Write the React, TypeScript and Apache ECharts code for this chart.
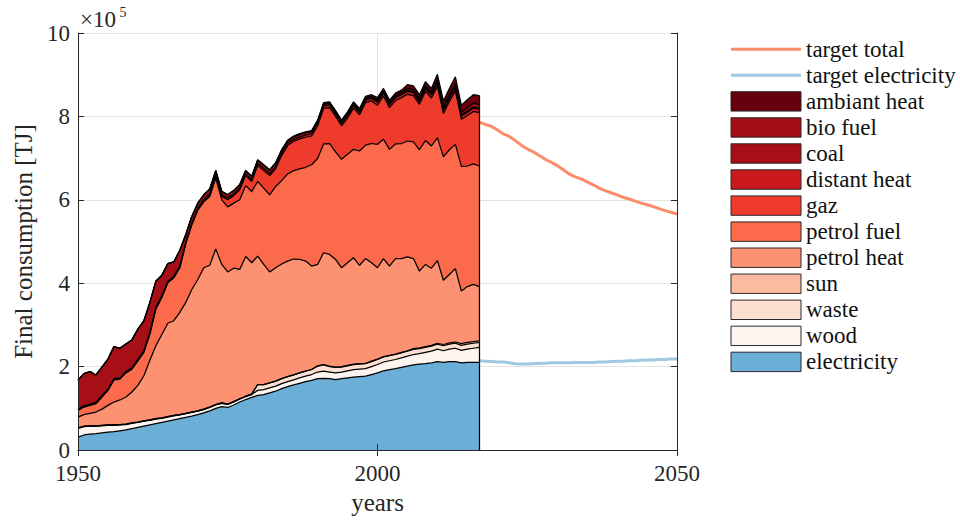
import { useEffect, useRef } from "react";
import * as echarts from "echarts";

// Years of the historical stacked data
const years = [
  1950, 1951, 1952, 1953, 1954, 1955, 1956, 1957, 1958, 1959,
  1960, 1961, 1962, 1963, 1964, 1965, 1966, 1967, 1968, 1969,
  1970, 1971, 1972, 1973, 1974, 1975, 1976, 1977, 1978, 1979,
  1980, 1981, 1982, 1983, 1984, 1985, 1986, 1987, 1988, 1989,
  1990, 1991, 1992, 1993, 1994, 1995, 1996, 1997, 1998, 1999,
  2000, 2001, 2002, 2003, 2004, 2005, 2006, 2007, 2008, 2009,
  2010, 2011, 2012, 2013, 2014, 2015, 2016, 2017,
];

// Values in units of 1e5 TJ
const electricity = [
  0.31, 0.36, 0.38, 0.39, 0.41, 0.43, 0.44, 0.46, 0.48, 0.51,
  0.54, 0.57, 0.60, 0.63, 0.66, 0.69, 0.72, 0.75, 0.78, 0.81,
  0.85, 0.89, 0.94, 1.00, 1.04, 1.02, 1.08, 1.15, 1.21, 1.26,
  1.31, 1.33, 1.37, 1.41, 1.47, 1.52, 1.56, 1.60, 1.64, 1.67,
  1.71, 1.72, 1.71, 1.69, 1.71, 1.73, 1.75, 1.76, 1.77, 1.81,
  1.85, 1.90, 1.93, 1.95, 1.98, 2.01, 2.04, 2.06, 2.07, 2.09,
  2.12, 2.10, 2.12, 2.12, 2.09, 2.10, 2.10, 2.10,
];
const wood = [
  0.21, 0.20, 0.19, 0.18, 0.17, 0.16, 0.15, 0.14, 0.13, 0.13,
  0.12, 0.12, 0.11, 0.11, 0.10, 0.10, 0.10, 0.09, 0.09, 0.09,
  0.08, 0.08, 0.08, 0.08, 0.08, 0.07, 0.07, 0.07, 0.07, 0.07,
  0.12, 0.12, 0.12, 0.12, 0.12, 0.12, 0.12, 0.13, 0.13, 0.14,
  0.16, 0.17, 0.16, 0.16, 0.16, 0.17, 0.18, 0.18, 0.18, 0.19,
  0.20, 0.21, 0.21, 0.22, 0.23, 0.24, 0.25, 0.25, 0.27, 0.28,
  0.30, 0.28, 0.30, 0.32, 0.30, 0.32, 0.34, 0.36,
];
const waste = [
  0.01, 0.01, 0.01, 0.01, 0.01, 0.01, 0.01, 0.01, 0.01, 0.01,
  0.01, 0.01, 0.01, 0.01, 0.01, 0.01, 0.01, 0.01, 0.01, 0.01,
  0.01, 0.01, 0.01, 0.01, 0.01, 0.01, 0.01, 0.01, 0.01, 0.01,
  0.14, 0.12, 0.12, 0.12, 0.12, 0.12, 0.12, 0.12, 0.12, 0.12,
  0.14, 0.15, 0.13, 0.13, 0.12, 0.12, 0.12, 0.12, 0.12, 0.12,
  0.12, 0.12, 0.12, 0.12, 0.12, 0.12, 0.12, 0.12, 0.12, 0.12,
  0.12, 0.12, 0.12, 0.12, 0.12, 0.12, 0.12, 0.12,
];
const sun = [
  0, 0, 0, 0, 0, 0, 0, 0, 0, 0,
  0, 0, 0, 0, 0, 0, 0, 0, 0, 0,
  0, 0, 0, 0, 0, 0, 0, 0, 0, 0,
  0, 0, 0, 0, 0, 0, 0, 0, 0, 0,
  0.01, 0.01, 0.01, 0.01, 0.01, 0.01, 0.01, 0.01, 0.01, 0.01,
  0.01, 0.01, 0.01, 0.01, 0.01, 0.01, 0.02, 0.02, 0.02, 0.02,
  0.02, 0.03, 0.03, 0.03, 0.04, 0.04, 0.04, 0.04,
];
const petrolHeat = [
  0.26, 0.28, 0.30, 0.33, 0.39, 0.47, 0.55, 0.59, 0.65, 0.74,
  0.88, 1.08, 1.43, 1.75, 2.00, 2.24, 2.27, 2.45, 2.66, 2.94,
  3.15, 3.39, 3.40, 3.73, 3.32, 3.17, 3.20, 3.10, 3.35, 3.15,
  3.08, 2.88, 2.66, 2.72, 2.75, 2.77, 2.78, 2.72, 2.64, 2.48,
  2.43, 2.68, 2.68, 2.58, 2.37, 2.46, 2.55, 2.36, 2.51, 2.36,
  2.19, 2.35, 2.14, 2.29, 2.25, 2.25, 2.16, 1.84, 1.97, 1.85,
  1.98, 1.54, 1.64, 1.76, 1.26, 1.34, 1.37, 1.30,
];
const petrolFuel = [
  0.16, 0.18, 0.19, 0.20, 0.29, 0.36, 0.53, 0.50, 0.58, 0.55,
  0.59, 0.56, 0.63, 0.88, 0.89, 0.97, 1.03, 1.07, 1.41, 1.55,
  1.66, 1.58, 1.65, 1.70, 1.55, 1.56, 1.56, 1.67, 1.70, 1.71,
  1.79, 1.83, 1.85, 1.95, 2.00, 2.09, 2.12, 2.17, 2.25, 2.43,
  2.54, 2.61, 2.66, 2.58, 2.60, 2.60, 2.60, 2.74, 2.72, 2.86,
  2.96, 2.86, 2.80, 2.75, 2.76, 2.78, 2.80, 2.91, 2.97, 2.93,
  2.95, 2.96, 2.99, 2.98, 2.99, 2.89, 2.89, 2.89,
];
const gaz = [
  0.01, 0.01, 0.01, 0.01, 0.01, 0.01, 0.01, 0.01, 0.01, 0.01,
  0.01, 0.01, 0.01, 0.01, 0.01, 0.01, 0.01, 0.01, 0.01, 0.01,
  0.01, 0.02, 0.03, 0.05, 0.08, 0.17, 0.18, 0.24, 0.24, 0.24,
  0.38, 0.42, 0.46, 0.43, 0.60, 0.68, 0.70, 0.72, 0.72, 0.69,
  0.78, 0.85, 0.86, 0.85, 0.80, 0.87, 0.99, 0.87, 1.02, 1.02,
  0.94, 1.04, 1.00, 1.04, 1.10, 1.12, 1.11, 1.09, 1.18, 1.15,
  1.23, 1.04, 1.15, 1.28, 1.13, 1.21, 1.26, 1.28,
];
const distantHeat = [
  0.02, 0.02, 0.02, 0.02, 0.02, 0.02, 0.02, 0.02, 0.02, 0.02,
  0.03, 0.03, 0.03, 0.03, 0.03, 0.03, 0.03, 0.03, 0.03, 0.03,
  0.04, 0.04, 0.04, 0.04, 0.04, 0.04, 0.04, 0.04, 0.04, 0.04,
  0.05, 0.05, 0.05, 0.05, 0.05, 0.05, 0.05, 0.05, 0.05, 0.05,
  0.06, 0.06, 0.06, 0.06, 0.06, 0.06, 0.06, 0.06, 0.06, 0.06,
  0.07, 0.07, 0.07, 0.07, 0.07, 0.07, 0.07, 0.07, 0.07, 0.07,
  0.08, 0.08, 0.08, 0.08, 0.08, 0.08, 0.08, 0.08,
];
const coal = [
  0.70, 0.77, 0.78, 0.66, 0.69, 0.72, 0.77, 0.71, 0.66, 0.67,
  0.72, 0.72, 0.72, 0.63, 0.49, 0.42, 0.34, 0.38, 0.18, 0.16,
  0.12, 0.11, 0.11, 0.09, 0.08, 0.08, 0.08, 0.08, 0.08, 0.08,
  0.08, 0.08, 0.08, 0.08, 0.08, 0.06, 0.06, 0.06, 0.06, 0.06,
  0.04, 0.04, 0.04, 0.04, 0.04, 0.04, 0.04, 0.04, 0.04, 0.04,
  0.03, 0.03, 0.03, 0.03, 0.03, 0.03, 0.03, 0.03, 0.03, 0.03,
  0.03, 0.03, 0.03, 0.03, 0.03, 0.03, 0.03, 0.03,
];
const bioFuel = [
  0, 0, 0, 0, 0, 0, 0, 0, 0, 0,
  0, 0, 0, 0, 0, 0, 0, 0, 0, 0,
  0, 0, 0, 0, 0, 0, 0, 0, 0, 0,
  0, 0, 0, 0, 0, 0, 0, 0, 0, 0,
  0.01, 0.01, 0.01, 0.01, 0.01, 0.01, 0.01, 0.01, 0.01, 0.01,
  0.02, 0.02, 0.02, 0.02, 0.02, 0.04, 0.04, 0.04, 0.04, 0.04,
  0.06, 0.06, 0.06, 0.06, 0.06, 0.08, 0.08, 0.08,
];
const ambiantHeat = [
  0, 0, 0, 0, 0, 0, 0, 0, 0, 0,
  0, 0, 0, 0, 0, 0, 0, 0, 0, 0,
  0, 0, 0, 0, 0, 0, 0, 0, 0, 0,
  0.01, 0.01, 0.01, 0.01, 0.01, 0.02, 0.02, 0.02, 0.02, 0.02,
  0.03, 0.03, 0.03, 0.03, 0.03, 0.04, 0.04, 0.04, 0.04, 0.04,
  0.06, 0.06, 0.06, 0.06, 0.06, 0.09, 0.09, 0.09, 0.09, 0.09,
  0.12, 0.13, 0.15, 0.17, 0.17, 0.19, 0.21, 0.22,
];

// Target scenario
const targetYears = [
  2017, 2018, 2019, 2020, 2021, 2022, 2023, 2024, 2025, 2026,
  2027, 2028, 2029, 2030, 2031, 2032, 2033, 2034, 2035, 2036,
  2037, 2038, 2039, 2040, 2041, 2042, 2043, 2044, 2045, 2046,
  2047, 2048, 2049, 2050,
];
const targetTotal = [
  7.86, 7.81, 7.76, 7.68, 7.58, 7.52, 7.42, 7.31, 7.22, 7.15,
  7.06, 6.97, 6.90, 6.82, 6.72, 6.62, 6.55, 6.50, 6.43, 6.36,
  6.28, 6.22, 6.17, 6.12, 6.06, 6.02, 5.97, 5.92, 5.88, 5.84,
  5.79, 5.74, 5.70, 5.66,
];
const targetElectricity = [
  2.14, 2.13, 2.12, 2.11, 2.11, 2.09, 2.07, 2.06, 2.06, 2.07,
  2.08, 2.08, 2.09, 2.09, 2.09, 2.09, 2.10, 2.10, 2.10, 2.10,
  2.11, 2.11, 2.12, 2.13, 2.13, 2.14, 2.14, 2.15, 2.16, 2.16,
  2.17, 2.17, 2.18, 2.18,
];

const xTickMin = 1950;
const xTickMax = 2050;
const xTickStep = 50;
const yTickMin = 0;
const yTickMax = 10;
const yTickStep = 2;

const FONT = "'Liberation Serif', 'DejaVu Serif', serif";
const INK = "#262626";
const GRID = "#e3e3e3";

export default function App() {
  const ref = useRef<HTMLDivElement>(null);

  useEffect(() => {
    if (!ref.current) return;
    const chart = echarts.init(ref.current, null, { renderer: "svg" });

    // stacking order: bottom to top
    const layers = [
      { name: "electricity", values: electricity, color: "#6baed6" },
      { name: "wood", values: wood, color: "#fff5f0" },
      { name: "waste", values: waste, color: "#fee0d2" },
      { name: "sun", values: sun, color: "#fcbba1" },
      { name: "petrol heat", values: petrolHeat, color: "#fc9272" },
      { name: "petrol fuel", values: petrolFuel, color: "#fb6a4a" },
      { name: "gaz", values: gaz, color: "#ef3b2c" },
      { name: "distant heat", values: distantHeat, color: "#cb181d" },
      { name: "coal", values: coal, color: "#a50f15" },
      { name: "bio fuel", values: bioFuel, color: "#a30f15" },
      { name: "ambiant heat", values: ambiantHeat, color: "#67000d" },
    ];

    const lastIdx = years.length - 1;
    const lastYear = years[lastIdx];
    const lastTotal = layers.reduce((s, l) => s + l.values[lastIdx], 0);

    // data given as [value, year] with encode so that the value dimension is stacked
    const areaSeries: any[] = layers.map((l) => ({
      name: l.name,
      type: "line",
      stack: "total",
      data: years.map((y, i) => [l.values[i], y]),
      encode: { x: 1, y: 0 },
      symbol: "none",
      showSymbol: false,
      silent: true,
      lineStyle: { color: "#000", width: 1.25 },
      areaStyle: { color: l.color, opacity: 1 },
      itemStyle: { color: l.color },
      emphasis: { disabled: true },
      z: 2,
    }));

    const targetSeries: any[] = [
      {
        name: "target total",
        type: "line",
        data: targetYears.map((y, i) => [y, targetTotal[i]]),
        symbol: "none",
        silent: true,
        lineStyle: { color: "#fc8d6a", width: 3 },
        itemStyle: { color: "#fc8d6a" },
        z: 3,
        markLine: {
          silent: true,
          symbol: "none",
          label: { show: false },
          lineStyle: { color: "#000", width: 1.25, type: "solid" },
          data: [[{ coord: [lastYear, 0] }, { coord: [lastYear, lastTotal] }]],
        },
      },
      {
        name: "target electricity",
        type: "line",
        data: targetYears.map((y, i) => [y, targetElectricity[i]]),
        symbol: "none",
        silent: true,
        lineStyle: { color: "#9ecae1", width: 3 },
        itemStyle: { color: "#9ecae1" },
        z: 3,
      },
    ];

    const legendItems = [
      { name: "target total", kind: "line", color: "#fc8d6a" },
      { name: "target electricity", kind: "line", color: "#9ecae1" },
      ...layers
        .slice()
        .reverse()
        .map((l) => ({ name: l.name, kind: "rect", color: l.color })),
    ];

    const legendGraphics: any[] = [];
    legendItems.forEach((it, i) => {
      const cy = 49.3 + 26.05 * i;
      if (it.kind === "line") {
        legendGraphics.push({
          type: "line",
          shape: { x1: 731, y1: cy, x2: 801, y2: cy },
          style: { stroke: it.color, lineWidth: 3 },
          silent: true,
        });
      } else {
        legendGraphics.push({
          type: "rect",
          shape: { x: 731, y: cy - 9.7, width: 70, height: 19.4 },
          style: { fill: it.color, stroke: "#2a2a2a", lineWidth: 1 },
          silent: true,
        });
      }
      legendGraphics.push({
        type: "text",
        x: 806,
        y: cy,
        silent: true,
        style: {
          text: it.name,
          fontFamily: FONT,
          fontSize: 23,
          lineHeight: 22,
          fill: "#111",
          align: "left",
          verticalAlign: "middle",
        },
      });
    });

    const baseX = { type: "value", min: xTickMin, max: xTickMax, interval: xTickStep };
    const baseY = { type: "value", min: yTickMin, max: yTickMax, interval: yTickStep };
    const axisLineStyle = { show: true, lineStyle: { color: INK, width: 1 } };
    const tickStyle = { show: true, inside: true, length: 6, lineStyle: { color: INK, width: 1 } };

    chart.setOption({
      animation: false,
      backgroundColor: "#ffffff",
      grid: { left: 78, top: 33, width: 599, height: 419, containLabel: false },
      xAxis: [
        {
          ...baseX,
          position: "bottom",
          z: 5,
          axisLine: axisLineStyle,
          axisTick: tickStyle,
          splitLine: { show: false },
          axisLabel: {
            color: INK,
            fontFamily: FONT,
            fontSize: 23,
            lineHeight: 17,
            margin: 15,
            formatter: (v: number) => String(v),
          },
          name: "years",
          nameLocation: "middle",
          nameGap: 40,
          nameTextStyle: { color: INK, fontFamily: FONT, fontSize: 25 },
        },
        {
          ...baseX,
          position: "top",
          z: 5,
          axisLine: axisLineStyle,
          axisTick: tickStyle,
          axisLabel: { show: false },
          splitLine: { show: false },
        },
        {
          ...baseX,
          position: "bottom",
          z: 0,
          axisLine: { show: false },
          axisTick: { show: false },
          axisLabel: { show: false },
          splitLine: { show: true, lineStyle: { color: GRID, width: 1 } },
        },
      ],
      yAxis: [
        {
          ...baseY,
          position: "left",
          z: 5,
          axisLine: axisLineStyle,
          axisTick: tickStyle,
          splitLine: { show: false },
          axisLabel: { color: INK, fontFamily: FONT, fontSize: 23, lineHeight: 16, margin: 8 },
          name: "Final consumption [TJ]",
          nameLocation: "middle",
          nameGap: 42,
          nameTextStyle: { color: INK, fontFamily: FONT, fontSize: 25 },
        },
        {
          ...baseY,
          position: "right",
          z: 5,
          axisLine: axisLineStyle,
          axisTick: tickStyle,
          axisLabel: { show: false },
          splitLine: { show: false },
        },
        {
          ...baseY,
          position: "left",
          z: 0,
          axisLine: { show: false },
          axisTick: { show: false },
          axisLabel: { show: false },
          splitLine: { show: true, lineStyle: { color: GRID, width: 1 } },
        },
      ],
      series: [...areaSeries, ...targetSeries],
      graphic: [
        {
          type: "text",
          x: 80,
          y: 19,
          silent: true,
          style: {
            text: "×10",
            fontFamily: FONT,
            fontSize: 23,
            fill: INK,
            align: "left",
            verticalAlign: "middle",
          },
        },
        {
          type: "text",
          x: 119.5,
          y: 12.5,
          silent: true,
          style: {
            text: "5",
            fontFamily: FONT,
            fontSize: 14,
            fill: INK,
            align: "left",
            verticalAlign: "middle",
          },
        },
        ...legendGraphics,
      ],
    });

    return () => {
      chart.dispose();
    };
  }, []);

  return (
    <div
      ref={ref}
      style={{ position: "fixed", left: 0, top: 0, width: 960, height: 520, background: "#fff" }}
    />
  );
}
